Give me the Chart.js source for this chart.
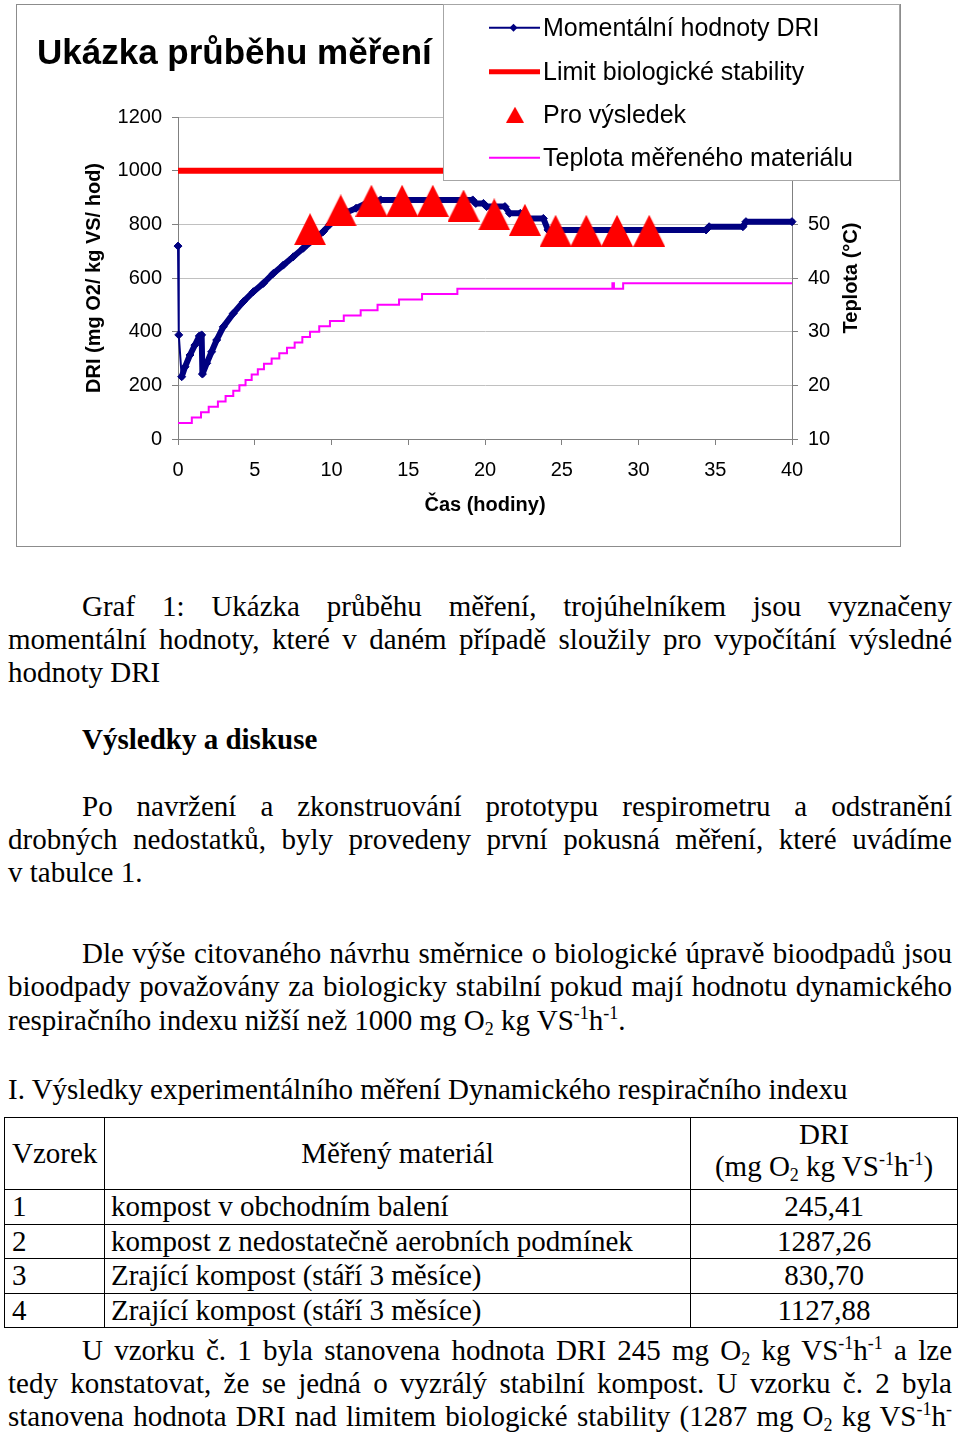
<!DOCTYPE html>
<html>
<head>
<meta charset="utf-8">
<script src="https://cdn.jsdelivr.net/npm/chart.js@4.4.1/dist/chart.umd.min.js"></script>
<style>
html,body{margin:0;padding:0;background:#fff;}
body{width:960px;height:1444px;overflow:hidden;position:relative;font-family:'Liberation Serif','Times New Roman',serif;color:#000;}
#frame{position:absolute;left:16px;top:4px;width:883px;height:541px;border:1px solid #8c8c8c;}
#chartWrap{position:absolute;left:0;top:0;width:960px;height:546px;}
#ctitle{position:absolute;left:37px;top:32px;font:bold 35px/40px 'Liberation Sans',Arial,sans-serif;white-space:nowrap;z-index:3;}
#legend{position:absolute;left:443px;top:4px;width:455px;height:175px;border:1px solid #a6a6a6;background:#fff;z-index:2;}
.lg-row{position:absolute;left:0;width:100%;height:43.33px;}
.lg-row canvas{position:absolute;left:44px;top:0;}
.lg-row span{position:absolute;left:99px;top:0;font:25px/43.33px 'Liberation Sans',Arial,sans-serif;white-space:nowrap;}
.ln{position:absolute;left:8px;width:944px;height:33.4px;font-size:29px;line-height:33.4px;white-space:nowrap;}
.j{text-align:justify;text-align-last:justify;white-space:normal;}
.ind{left:82px;width:870px;}
.b{font-weight:bold;}
sup,sub{font-size:18px;line-height:0;position:relative;vertical-align:baseline;}
sup{top:-11px;}
sub{top:5px;}
#tbl{position:absolute;left:4px;top:1117px;border-collapse:collapse;table-layout:fixed;}
#tbl td{border:1px solid #000;font-size:29px;line-height:33.4px;padding:0 0 0 7px;vertical-align:middle;white-space:nowrap;}
#tbl td.c{text-align:center;padding:0;}
#tbl td.dri{vertical-align:top;line-height:32px;}
#tbl tr.r{height:34.5px;}
</style>
</head>
<body>
<div id="frame"></div>
<div id="chartWrap"><canvas id="chart" width="960" height="546"></canvas></div>
<div id="ctitle">Ukázka průběhu měření</div>
<div id="legend"></div>

<div class="ln j ind" style="top:589.5px">Graf 1: Ukázka průběhu měření, trojúhelníkem jsou vyznačeny</div>
<div class="ln j" style="top:622.9px">momentální hodnoty, které v daném případě sloužily pro vypočítání výsledné</div>
<div class="ln" style="top:656.3px">hodnoty DRI</div>

<div class="ln b" style="top:722.8px;left:82px">Výsledky a diskuse</div>

<div class="ln j ind" style="top:789.5px">Po navržení a zkonstruování prototypu respirometru a odstranění</div>
<div class="ln j" style="top:822.9px">drobných nedostatků, byly provedeny první pokusná měření, které uvádíme</div>
<div class="ln" style="top:856.3px">v tabulce 1.</div>

<div class="ln j ind" style="top:937px">Dle výše citovaného návrhu směrnice o biologické úpravě bioodpadů jsou</div>
<div class="ln j" style="top:970.4px">bioodpady považovány za biologicky stabilní pokud mají hodnotu dynamického</div>
<div class="ln" style="top:1003.8px">respiračního indexu nižší než 1000 mg O<sub>2</sub> kg VS<sup>-1</sup>h<sup>-1</sup>.</div>

<div class="ln" style="top:1073px">I. Výsledky experimentálního měření Dynamického respiračního indexu</div>

<table id="tbl">
<colgroup><col style="width:100px"><col style="width:586px"><col style="width:267px"></colgroup>
<tr style="height:72px"><td>Vzorek</td><td class="c">Měřený materiál</td><td class="c dri">DRI<br>(mg O<sub>2</sub> kg VS<sup>-1</sup>h<sup>-1</sup>)</td></tr>
<tr class="r"><td>1</td><td style="padding-left:6px">kompost v obchodním balení</td><td class="c">245,41</td></tr>
<tr class="r"><td>2</td><td style="padding-left:6px">kompost z nedostatečně aerobních podmínek</td><td class="c">1287,26</td></tr>
<tr class="r"><td>3</td><td style="padding-left:6px">Zrající kompost (stáří 3 měsíce)</td><td class="c">830,70</td></tr>
<tr class="r"><td>4</td><td style="padding-left:6px">Zrající kompost (stáří 3 měsíce)</td><td class="c">1127,88</td></tr>
</table>

<div class="ln j ind" style="top:1333.5px">U vzorku č. 1 byla stanovena hodnota DRI 245 mg O<sub>2</sub> kg VS<sup>-1</sup>h<sup>-1</sup> a lze</div>
<div class="ln j" style="top:1366.9px">tedy konstatovat, že se jedná o vyzrálý stabilní kompost. U vzorku č. 2 byla</div>
<div class="ln j" style="top:1400.3px">stanovena hodnota DRI nad limitem biologické stability (1287 mg O<sub>2</sub> kg VS<sup>-1</sup>h<sup>-</sup></div>

<script>
// ---- data ----
const driLabel = 'Momentální hodnoty DRI';
const driTime  = [0, 0.05, 0.24, 0.46, 0.78, 1.10, 1.39, 1.54, 1.59, 1.87, 2.19, 2.52, 2.95, 3.60, 4.26, 4.91, 5.56, 6.21, 6.86, 7.51, 8.16, 8.82, 9.47, 9.90, 10.55, 11.0, 11.6, 12.3, 13.2, 19.2, 19.4, 19.9, 20.1, 21.3, 21.6, 22.3, 22.5, 23.8, 24.1, 34.4, 34.6, 36.8, 37.0, 40.0];
const driValue = [719, 388, 232, 269, 313, 350, 384, 388, 242, 282, 325, 369, 418, 468, 512, 549, 580, 617, 648, 679, 711, 742, 773, 800, 835, 845, 860, 880, 891, 891, 878, 878, 866, 866, 841, 841, 822, 822, 779, 779, 791, 791, 810, 810];

const limitLabel = 'Limit biologické stability';
const limitTime  = [0, 40];
const limitValue = [1000, 1000];

const resultLabel = 'Pro výsledek';
const resultTime  = [8.6, 10.6, 12.6, 14.6, 16.6, 18.6, 20.6, 22.6, 24.6, 26.6, 28.6, 30.7];
const resultValue = [782, 852, 888, 888, 888, 870, 837, 817, 776, 776, 776, 776];

const tempLabel = 'Teplota měřeného materiálu';
const tempTime  = [0, 0.9, 1.5, 2.0, 2.6, 3.1, 3.6, 4.0, 4.4, 4.8, 5.2, 5.6, 6.1, 6.6, 7.1, 7.6, 8.1, 8.6, 9.2, 9.9, 10.8, 11.9, 13.0, 14.4, 15.9, 18.2, 28.3, 28.4, 29.0, 40.0];
const tempValue = [13, 14, 15, 16, 17, 18, 19, 20, 21, 22, 23, 24, 25, 26, 27, 28, 29, 30, 31, 32, 33, 34, 35, 36, 37, 38, 39, 38, 39, 39];

const xTitle  = 'Čas (hodiny)';
const yTitle  = 'DRI (mg O2/ kg VS/ hod)';
const y2Title = 'Teplota (°C)';
const xRange  = [0, 40, 5];
const yRange  = [0, 1200, 200];
const y2Range = [10, 70, 10];

// ---- helpers ----
const pts = (xs, ys) => xs.map((x, i) => ({x: x, y: ys[i]}));
const SANS = "'Liberation Sans', Arial, sans-serif";
const plain = v => String(v);

function triangleCanvas(w, h, color) {
  const c = document.createElement('canvas');
  c.width = w; c.height = h;
  const g = c.getContext('2d');
  g.fillStyle = color;
  g.beginPath();
  g.moveTo(w / 2, 0);
  g.lineTo(w, h);
  g.lineTo(0, h);
  g.closePath();
  g.fill();
  return c;
}
const triBig = triangleCanvas(32, 32, '#FF0000');

const rightTitlePlugin = {
  id: 'rightTitle',
  afterDraw(chart) {
    const s = chart.scales.y2;
    const area = chart.chartArea;
    const ctx = chart.ctx;
    ctx.save();
    ctx.font = 'bold 20px ' + SANS;
    ctx.fillStyle = '#000';
    ctx.textAlign = 'center';
    ctx.textBaseline = 'middle';
    ctx.translate(s.left + 59, (area.top + area.bottom) / 2);
    ctx.rotate(-Math.PI / 2);
    ctx.fillText(y2Title, 0, 0);
    ctx.restore();
  }
};

const tickFont = {family: SANS, size: 20};
const titleFont = {family: SANS, size: 20, weight: 'bold'};

const chart = new Chart(document.getElementById('chart'), {
  type: 'line',
  data: {
    datasets: [
      {
        label: resultLabel,
        data: pts(resultTime, resultValue),
        yAxisID: 'y',
        showLine: false,
        pointStyle: triBig,
        pointRadius: 16,
        backgroundColor: '#FF0000',
        borderColor: '#FF0000',
        order: 0,
        clip: false
      },
      {
        label: driLabel,
        data: pts(driTime, driValue),
        yAxisID: 'y',
        borderColor: '#000080',
        backgroundColor: '#000080',
        borderWidth: 6,
        borderJoinStyle: 'round',
        borderCapStyle: 'round',
        pointStyle: 'rectRot',
        pointRadius: 4,
        pointBorderWidth: 1,
        pointBackgroundColor: '#000080',
        pointBorderColor: '#000080',
        segment: { borderWidth: c => (c.p0DataIndex < 2 ? 2 : 6) },
        order: 1,
        clip: false
      },
      {
        label: limitLabel,
        data: pts(limitTime, limitValue),
        yAxisID: 'y',
        borderColor: '#FF0000',
        backgroundColor: '#FF0000',
        borderWidth: 6,
        borderCapStyle: 'butt',
        pointRadius: 0,
        order: 2
      },
      {
        label: tempLabel,
        data: pts(tempTime, tempValue),
        yAxisID: 'y2',
        stepped: 'before',
        borderColor: '#FF00FF',
        backgroundColor: '#FF00FF',
        borderWidth: 2,
        pointRadius: 0,
        order: 3
      }
    ]
  },
  options: {
    responsive: false,
    animation: false,
    events: [],
    layout: { padding: { top: 117, left: 0, right: 0, bottom: 0 } },
    plugins: { legend: { display: false }, title: { display: false }, tooltip: { enabled: false } },
    scales: {
      x: {
        type: 'linear',
        min: xRange[0], max: xRange[1],
        ticks: { stepSize: xRange[2], padding: 13, font: tickFont, color: '#000', callback: plain },
        grid: { drawOnChartArea: false, drawTicks: true, tickLength: 6, color: '#808080' },
        border: { color: '#808080', width: 1 },
        title: { display: true, text: xTitle, font: titleFont, color: '#000', padding: { top: 0, bottom: 29 } },
        afterFit: s => { s.height = 107; }
      },
      y: {
        type: 'linear',
        position: 'left',
        min: yRange[0], max: yRange[1],
        ticks: { stepSize: yRange[2], padding: 10, font: tickFont, color: '#000', callback: plain },
        grid: { color: '#c0c0c0', tickLength: 6, tickColor: '#808080' },
        border: { color: '#808080', width: 1 },
        title: { display: true, text: yTitle, font: titleFont, color: '#000', padding: { top: 82, bottom: 0 } },
        afterFit: s => { s.width = 178; }
      },
      y2: {
        type: 'linear',
        position: 'right',
        min: y2Range[0], max: y2Range[1],
        ticks: { stepSize: y2Range[2], padding: 10, font: tickFont, color: '#000', callback: plain },
        grid: { drawOnChartArea: false, tickLength: 6, color: '#808080' },
        border: { color: '#808080', width: 1 },
        afterFit: s => { s.width = 168; }
      }
    }
  },
  plugins: [rightTitlePlugin]
});

// ---- HTML legend built from the chart's datasets ----
(function buildLegend() {
  const box = document.getElementById('legend');
  const orderLabels = [driLabel, limitLabel, resultLabel, tempLabel];
  orderLabels.forEach((lab, i) => {
    const ds = chart.data.datasets.find(d => d.label === lab);
    const row = document.createElement('div');
    row.className = 'lg-row';
    row.style.top = (1.37 + i * 43.33) + 'px';
    const cv = document.createElement('canvas');
    cv.width = 56; cv.height = 43;
    const g = cv.getContext('2d');
    const cy = 21.7;
    if (ds.showLine === false) {
      const t = triangleCanvas(18, 16, ds.backgroundColor);
      g.drawImage(t, 27 - 9, cy - 8);
    } else {
      g.strokeStyle = ds.borderColor;
      g.lineWidth = ds.label === limitLabel ? 5 : 2;
      g.beginPath();
      g.moveTo(1, cy); g.lineTo(52, cy);
      g.stroke();
      if (ds.pointStyle === 'rectRot') {
        g.fillStyle = ds.borderColor;
        g.beginPath();
        g.moveTo(25.5 - 4, cy); g.lineTo(25.5, cy - 4); g.lineTo(25.5 + 4, cy); g.lineTo(25.5, cy + 4);
        g.closePath(); g.fill();
      }
    }
    const sp = document.createElement('span');
    sp.textContent = ds.label;
    row.appendChild(cv);
    row.appendChild(sp);
    box.appendChild(row);
  });
})();
</script>
</body>
</html>
